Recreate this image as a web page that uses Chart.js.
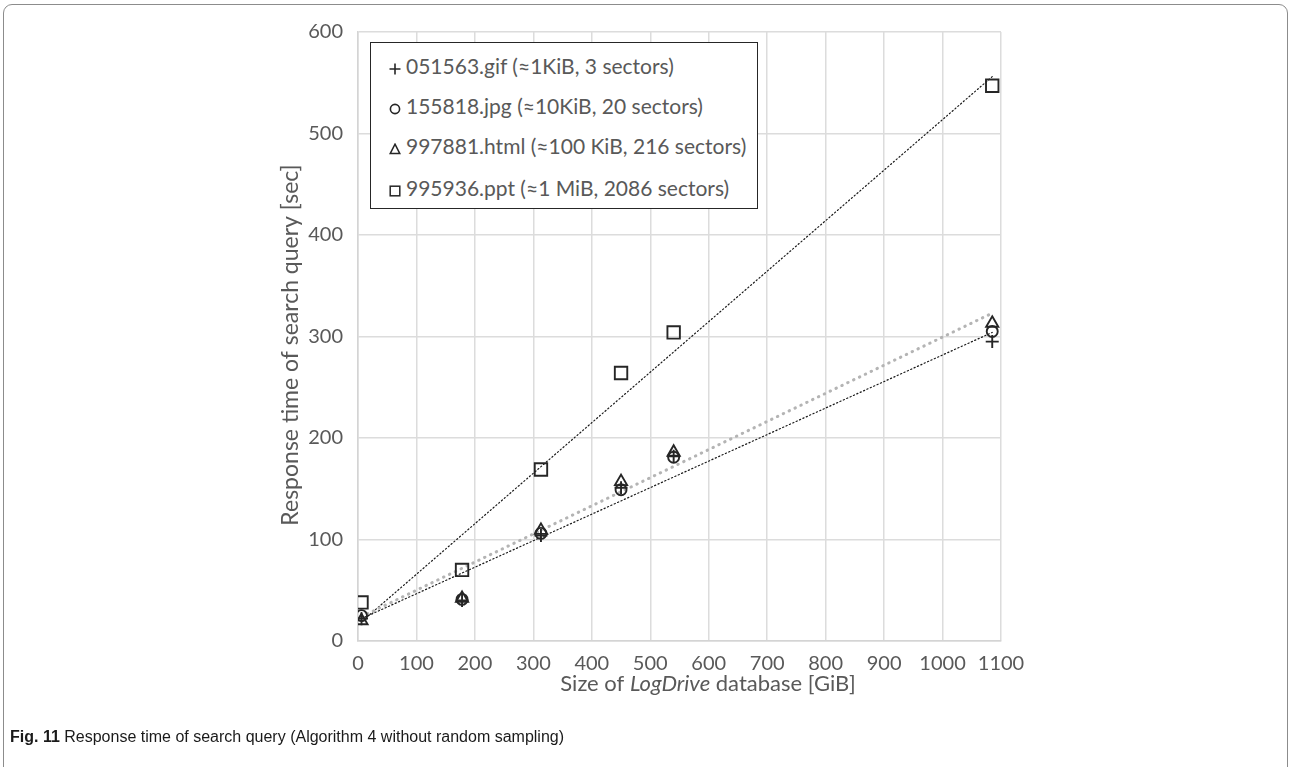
<!DOCTYPE html>
<html>
<head>
<meta charset="utf-8">
<script src="https://cdn.jsdelivr.net/npm/chart.js@4.4.1/dist/chart.umd.min.js"></script>
<style>
  body { margin: 0; background: #fff; }
  #wrap { position: relative; width: 1290px; height: 767px; overflow: hidden; }
  #frame { position: absolute; left: 3px; top: 4px; width: 1283px; height: 820px;
           border: 1.5px solid #8c8c8c; border-radius: 9px 9px 0 0; }
  canvas { position: absolute; left: 0; top: 0; }
  #legend { position: absolute; left: 370px; top: 42px; width: 386px; height: 165px;
            border: 1.3px solid #262626; background: #fff;
            font-family: Lato, sans-serif; font-size: 21px; color: #595959; }
  #legend .row { position: absolute; left: 18px; height: 26px; line-height: 26px; white-space: nowrap; }
  #legend svg { vertical-align: -1px; margin-right: 5px; }
  #caption { position: absolute; left: 10px; top: 728px; font: 16px "Liberation Sans", Arial, sans-serif; color: #1a1a1a; }
</style>
</head>
<body>
<div id="wrap">
  <div id="frame"></div>
  <canvas id="chart" width="1290" height="767"></canvas>
  <div id="legend"></div>
  <div id="caption"><b>Fig. 11</b> Response time of search query (Algorithm 4 without random sampling)</div>
</div>
<script>
// database size [GiB] for each measurement
const sizes = [6, 178, 313, 450, 540, 1085];

// response times [sec]
const gifTimes = [22, 40, 104, 151, 182, 295];
const jpgTimes = [25, 41, 106, 149, 181, 305];
const htmlTimes = [20, 42, 109, 157, 186, 313];
const pptTimes = [38, 70, 169, 264, 304, 547];

// trend line ends
const trendX = [6, 1085];
const gifTrend = [22, 304];
const htmlTrend = [24, 323];
const pptTrend = [19, 556];

const seriesNames = [
    '051563.gif (≈1KiB, 3 sectors)',
    '155818.jpg (≈10KiB, 20 sectors)',
    '997881.html (≈100 KiB, 216 sectors)',
    '995936.ppt (≈1 MiB, 2086 sectors)'
];

const xTicks = [0, 100, 200, 300, 400, 500, 600, 700, 800, 900, 1000, 1100];
const yTicks = [0, 100, 200, 300, 400, 500, 600];

const ink = '#262626';
const textGray = '#595959';

function pts(xs, ys) {
    return xs.map((x, i) => ({ x: x, y: ys[i] }));
}

function markers(label, ys, style, radius) {
    return {
        label: label,
        data: pts(sizes, ys),
        pointStyle: style,
        pointRadius: radius,
        pointBorderColor: ink,
        pointBackgroundColor: 'rgba(0,0,0,0)',
        pointBorderWidth: 1.9,
        showLine: false,
        order: 0
    };
}

function trend(ys, color, width, dash) {
    return {
        label: 'trend',
        data: pts(trendX, ys),
        showLine: true,
        borderColor: color,
        borderWidth: width,
        borderDash: dash,
        borderCapStyle: 'round',
        pointRadius: 0,
        order: 1
    };
}

// x title with italic "LogDrive", y title rotated
const axisTitles = {
    id: 'axisTitles',
    afterDraw(chart) {
        const ctx = chart.ctx;
        ctx.save();
        ctx.fillStyle = textGray;
        ctx.textBaseline = 'middle';
        const parts = [
            ['Size of ', '22px Lato'],
            ['LogDrive', 'italic 22px Lato'],
            [' database [GiB]', '22px Lato']
        ];
        let total = 0;
        parts.forEach(p => { ctx.font = p[1]; total += ctx.measureText(p[0]).width; });
        let x = 708 - total / 2;
        ctx.textAlign = 'left';
        parts.forEach(p => {
            ctx.font = p[1];
            ctx.fillText(p[0], x, 684);
            x += ctx.measureText(p[0]).width;
        });

        ctx.translate(291, 345);
        ctx.rotate(-Math.PI / 2);
        ctx.font = '23px Lato';
        ctx.textAlign = 'center';
        ctx.fillText('Response time of search query [sec]', 0, 0);
        ctx.restore();
    }
};

new Chart(document.getElementById('chart'), {
    type: 'scatter',
    data: {
        datasets: [
            markers(seriesNames[0], gifTimes, 'cross', 6.5),
            markers(seriesNames[1], jpgTimes, 'circle', 5.5),
            markers(seriesNames[2], htmlTimes, 'triangle', 7),
            markers(seriesNames[3], pptTimes, 'rect', 8.8),
            trend(gifTrend, '#1a1a1a', 1.2, [1.2, 2.5]),
            trend(htmlTrend, '#b4b4b4', 3, [0.5, 6]),
            trend(pptTrend, '#1a1a1a', 1.2, [1.2, 2.5])
        ]
    },
    options: {
        responsive: false,
        animation: false,
        layout: { padding: { left: 0, top: 32, right: 289, bottom: 86 } },
        plugins: {
            legend: { display: false },
            tooltip: { enabled: false }
        },
        scales: {
            x: {
                type: 'linear',
                min: xTicks[0],
                max: xTicks[xTicks.length - 1],
                afterBuildTicks: s => { s.ticks = xTicks.map(v => ({ value: v })); },
                afterFit: s => { s.height = 40; },
                grid: { color: '#dcdcdc', lineWidth: 1.5, drawTicks: false },
                border: { color: '#d4d4d4', width: 1.5 },
                ticks: {
                    color: textGray, font: { family: 'Lato', size: 20 }, padding: 11, maxRotation: 0,
                    callback: v => String(v)
                }
            },
            y: {
                type: 'linear',
                min: yTicks[0],
                max: yTicks[yTicks.length - 1],
                afterBuildTicks: s => { s.ticks = yTicks.map(v => ({ value: v })); },
                afterFit: s => { s.width = 358; },
                grid: { color: '#dcdcdc', lineWidth: 1.5, drawTicks: false },
                border: { color: '#d4d4d4', width: 1.5 },
                ticks: {
                    color: textGray, font: { family: 'Lato', size: 20 }, padding: 15,
                    callback: v => String(v)
                }
            }
        }
    },
    plugins: [axisTitles]
});

// legend box drawn as html
const symbols = [
    '<svg width="12" height="12"><path d="M6 0.5V11.5M0.5 6H11.5" stroke="#262626" stroke-width="1.6"/></svg>',
    '<svg width="12" height="12"><circle cx="6" cy="6" r="4.6" fill="none" stroke="#262626" stroke-width="1.6"/></svg>',
    '<svg width="12" height="12"><path d="M6 1.2L10.8 10.6H1.2Z" fill="none" stroke="#262626" stroke-width="1.5"/></svg>',
    '<svg width="12" height="12"><rect x="1.2" y="1.2" width="9.6" height="9.6" fill="none" stroke="#262626" stroke-width="1.5"/></svg>'
];
const rowCenters = [23, 63, 103, 145];
const legend = document.getElementById('legend');
seriesNames.forEach((name, i) => {
    const row = document.createElement('div');
    row.className = 'row';
    row.style.top = (rowCenters[i] - 13) + 'px';
    row.innerHTML = symbols[i] + name;
    legend.appendChild(row);
});
</script>
</body>
</html>
